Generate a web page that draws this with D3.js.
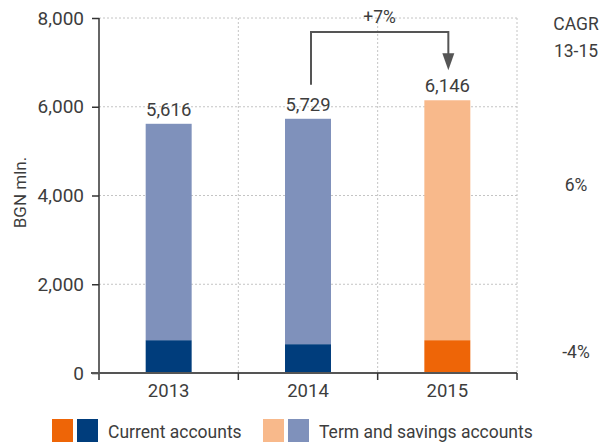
<!DOCTYPE html>
<html>
<head>
<meta charset="utf-8">
<script src="https://cdn.jsdelivr.net/npm/d3@7"></script>
<style>
html,body{margin:0;padding:0;background:#fff;}
svg{display:block;font-family:Roboto,"Liberation Sans",sans-serif;font-weight:400;}
</style>
</head>
<body>
<svg id="chart" width="600" height="442"></svg>
<script>
const years = ["2013", "2014", "2015"];
const currentAccounts = [740, 650, 740];
const termSavings = [4876, 5079, 5406];
const totals = [5616, 5729, 6146];
const yTicks = [0, 2000, 4000, 6000, 8000];
const cagrLabels = ["6%", "-4%"];
const cagrValues = [4230, 470];
const growthLabel = "+7%";
const legendLabels = ["Current accounts", "Term and savings accounts"];

const svg = d3.select("#chart");
const margin = {left: 99, right: 83, top: 18, bottom: 69};
const W = 600, H = 442;
const x = d3.scaleBand().domain(years).range([margin.left, W - margin.right]).paddingInner(0).paddingOuter(0);
const y = d3.scaleLinear().domain([0, 8000]).range([H - margin.bottom, margin.top]);
const barW = x.bandwidth() * 0.33;
const textCol = "#3d3d3d";
const colCurrDark = "#003d7c", colTermDark = "#7f91bb";
const colCurrLight = "#ee6507", colTermLight = "#f8b98b";
const isHighlight = (i) => i === 2;
const FS = 18.5;

// horizontal gridlines
svg.append("g").selectAll("line").data(yTicks.filter(d => d > 0)).join("line")
  .attr("x1", margin.left).attr("x2", W - margin.right)
  .attr("y1", d => y(d)).attr("y2", d => y(d))
  .attr("stroke", "#c4c4c4").attr("stroke-width", 1).attr("stroke-dasharray", "2,2");
// vertical gridlines
svg.append("g").selectAll("line").data(years.slice(1).concat(["end"])).join("line")
  .attr("x1", d => d === "end" ? x.range()[1] : x(d)).attr("x2", d => d === "end" ? x.range()[1] : x(d))
  .attr("y1", y(8000)).attr("y2", y(0))
  .attr("stroke", "#c4c4c4").attr("stroke-width", 1).attr("stroke-dasharray", "2,2");

// bars
const g = svg.append("g");
years.forEach((yr, i) => {
  const cx = x(yr) + x.bandwidth() / 2;
  g.append("rect").attr("x", cx - barW / 2).attr("width", barW)
    .attr("y", y(currentAccounts[i])).attr("height", y(0) - y(currentAccounts[i]))
    .attr("fill", isHighlight(i) ? colCurrLight : colCurrDark);
  g.append("rect").attr("x", cx - barW / 2).attr("width", barW)
    .attr("y", y(currentAccounts[i] + termSavings[i])).attr("height", y(currentAccounts[i]) - y(currentAccounts[i] + termSavings[i]))
    .attr("fill", isHighlight(i) ? colTermLight : colTermDark);
  g.append("text").attr("x", cx).attr("y", y(totals[i]) - 8)
    .attr("text-anchor", "middle").attr("font-size", FS).attr("fill", textCol)
    .text(d3.format(",")(totals[i]));
});

// y axis
const yAxis = svg.append("g").attr("transform", `translate(${margin.left},0)`)
  .call(d3.axisLeft(y).tickValues(yTicks).tickFormat(d3.format(",")).tickSize(7).tickPadding(8));
yAxis.select(".domain").attr("d", `M0,${y(8000)}H0V${y(0) + 7}`).attr("stroke", "#333").attr("stroke-width", 1.5);
yAxis.selectAll(".tick line").attr("stroke", "#333").attr("stroke-width", 1.5);
yAxis.selectAll(".tick text").attr("font-size", FS + 0.5).attr("fill", textCol).attr("font-family", "Roboto, sans-serif");
// x axis
const xAxis = svg.append("g").attr("transform", `translate(0,${y(0)})`)
  .call(d3.axisBottom(x).tickSize(0).tickPadding(11));
xAxis.select(".domain").attr("d", `M${margin.left - 8},0H${x.range()[1]}`).attr("stroke", "#555").attr("stroke-width", 2);
xAxis.selectAll(".tick text").attr("font-size", FS).attr("fill", textCol).attr("font-family", "Roboto, sans-serif").attr("dy", "0.71em");
svg.append("g").selectAll("line").data(years.slice(1).concat(["end"])).join("line")
  .attr("x1", d => d === "end" ? x.range()[1] : x(d)).attr("x2", d => d === "end" ? x.range()[1] : x(d))
  .attr("y1", y(0)).attr("y2", y(0) + 7).attr("stroke", "#333").attr("stroke-width", 1.5);

// y axis label
svg.append("text").attr("transform", `translate(26,${(y(0)+y(8000))/2 - 3}) rotate(-90)`)
  .attr("text-anchor", "middle").attr("font-size", 17).attr("fill", textCol).text("BGN mln.");

// growth arrow
const x1 = x(years[1]) + x.bandwidth() / 2 + 3;
const x2 = x(years[2]) + x.bandwidth() / 2 + 1;
const yTopArrow = 32;
const yStart = y(totals[1]) - 34;
const yEnd = y(totals[2]) - 30;
svg.append("path").attr("d", `M${x1},${yStart}V${yTopArrow}H${x2}V${yEnd - 14}`)
  .attr("fill", "none").attr("stroke", "#555").attr("stroke-width", 2);
svg.append("path").attr("d", `M${x2 - 6},${yEnd - 17}L${x2 + 6},${yEnd - 17}L${x2},${yEnd}Z`).attr("fill", "#555");
svg.append("text").attr("x", (x1 + x2) / 2).attr("y", 23).attr("text-anchor", "middle")
  .attr("font-size", 17.5).attr("fill", textCol).text(growthLabel);

// CAGR column
svg.append("text").attr("x", 576).attr("y", 30).attr("text-anchor", "middle").attr("font-size", 17.5).attr("fill", textCol).text("CAGR");
svg.append("text").attr("x", 576).attr("y", 57).attr("text-anchor", "middle").attr("font-size", 17.5).attr("fill", textCol).text("13-15");
svg.append("g").selectAll("text").data(cagrLabels).join("text")
  .attr("x", 576).attr("y", (d, i) => y(cagrValues[i]) + 6).attr("text-anchor", "middle")
  .attr("font-size", 17.5).attr("fill", textCol).text(d => d);

// legend
const leg = svg.append("g");
const legItems = [
  {cols: [colCurrLight, colCurrDark], label: legendLabels[0], x: 52},
  {cols: [colTermLight, colTermDark], label: legendLabels[1], x: 263}
];
legItems.forEach(it => {
  it.cols.forEach((c, j) => {
    leg.append("rect").attr("x", it.x + j * 25).attr("y", 419).attr("width", 21).attr("height", 23).attr("fill", c);
  });
  leg.append("text").attr("x", it.x + 56).attr("y", 438).attr("font-size", 17.5).attr("fill", textCol).text(it.label);
});
</script>
</body>
</html>
